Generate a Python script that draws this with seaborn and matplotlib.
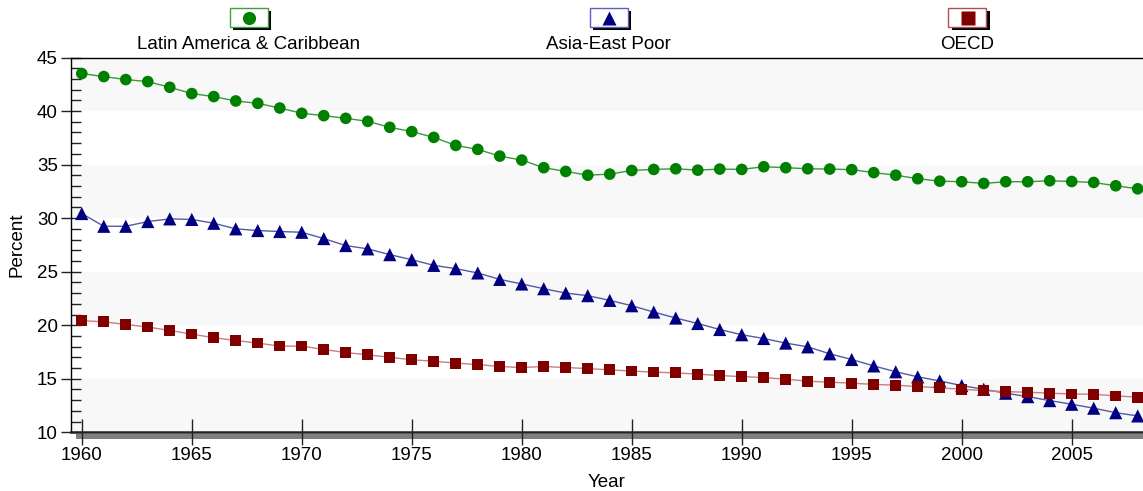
import numpy as np
import pandas as pd
import seaborn as sns
import matplotlib.pyplot as plt
from matplotlib.patches import Rectangle
from matplotlib.lines import Line2D
from matplotlib.ticker import MultipleLocator

years = list(range(1960, 2009))

latin = [43.50, 43.22, 42.94, 42.75, 42.22, 41.63, 41.35, 40.94, 40.72, 40.28,
         39.79, 39.57, 39.32, 39.04, 38.48, 38.08, 37.54, 36.79, 36.42, 35.79,
         35.42, 34.71, 34.36, 34.01, 34.11, 34.45, 34.55, 34.61, 34.48, 34.58,
         34.55, 34.80, 34.71, 34.61, 34.58, 34.53, 34.25, 34.01, 33.68, 33.45,
         33.40, 33.24, 33.40, 33.40, 33.49, 33.42, 33.33, 33.02, 32.74]
asia = [30.43, 29.24, 29.24, 29.68, 29.93, 29.88, 29.52, 29.00, 28.84, 28.75,
        28.68, 28.09, 27.44, 27.13, 26.59, 26.12, 25.59, 25.28, 24.88, 24.28,
        23.85, 23.41, 23.00, 22.76, 22.32, 21.82, 21.23, 20.67, 20.16, 19.60,
        19.11, 18.76, 18.33, 17.98, 17.33, 16.80, 16.20, 15.65, 15.18, 14.80,
        14.36, 14.02, 13.65, 13.33, 12.96, 12.62, 12.25, 11.83, 11.53]
oecd = [20.42, 20.32, 20.07, 19.83, 19.51, 19.17, 18.83, 18.57, 18.33, 18.05,
        18.05, 17.73, 17.45, 17.23, 17.01, 16.77, 16.64, 16.46, 16.33, 16.14,
        16.05, 16.14, 16.05, 15.95, 15.83, 15.72, 15.62, 15.55, 15.43, 15.30,
        15.20, 15.11, 14.96, 14.77, 14.68, 14.59, 14.47, 14.40, 14.27, 14.15,
        14.02, 13.89, 13.80, 13.74, 13.65, 13.58, 13.55, 13.40, 13.28]

series = ["Latin America & Caribbean", "Asia-East Poor", "OECD"]
dark = dict(zip(series, ["#008000", "#000080", "#800000"]))
light = dict(zip(series, ["#3a9a3a", "#5858a8", "#c88080"]))
edge = dict(zip(series, ["#40a040", "#6060b8", "#b05050"]))
marks = dict(zip(series, ["o", "^", "s"]))
msize = dict(zip(series, [70, 90, 60]))

df = pd.DataFrame({
    "Year": years * 3,
    "Percent": latin + asia + oecd,
    "Series": np.repeat(series, len(years)),
})

sns.set_style("ticks")
plt.rcParams["font.family"] = ["Liberation Sans", "DejaVu Sans"]
plt.rcParams["text.color"] = "black"
plt.rcParams["axes.labelcolor"] = "black"
plt.rcParams["xtick.labelcolor"] = "black"
plt.rcParams["ytick.labelcolor"] = "black"

W, H = 1143, 491
fig = plt.figure(figsize=(W / 100, H / 100), dpi=100)
ax = fig.add_axes([71 / W, 1 - 432.3 / H, 1 - 71 / W, (432.3 - 57.5) / H])

# alternating light bands
for lo in (10, 20, 30, 40):
    ax.axhspan(lo, lo + 5, color="#f8f8f8", lw=0, zorder=0)

sns.lineplot(data=df, x="Year", y="Percent", hue="Series", palette=light,
             lw=1, legend=False, ax=ax, zorder=2)
sns.scatterplot(data=df, x="Year", y="Percent", hue="Series", style="Series",
                size="Series", sizes=msize, markers=marks, palette=dark,
                edgecolor="none", legend=False, ax=ax, zorder=3)

ax.set_xlim(1959.51, 2008.24)
ax.set_ylim(10, 45)
ax.xaxis.set_major_locator(MultipleLocator(5))
ax.yaxis.set_major_locator(MultipleLocator(5))
ax.yaxis.set_minor_locator(MultipleLocator(1))
ax.tick_params(axis="x", which="major", direction="inout", length=19, width=1,
               color="#222222", labelsize=13.5, pad=1)
ax.tick_params(axis="y", which="major", direction="inout", length=15, width=1,
               color="#222222", labelsize=13.5, pad=2)
ax.tick_params(axis="y", which="minor", direction="in", length=7, width=1,
               color="#222222")

ax.spines["right"].set_visible(False)
ax.spines["top"].set_color("black")
ax.spines["top"].set_linewidth(1)
ax.spines["left"].set_color("black")
ax.spines["left"].set_linewidth(1)
ax.spines["bottom"].set_color("#222222")
ax.spines["bottom"].set_linewidth(1.8)

# grey shadow under the x axis
fig.patches.append(Rectangle((76 / W, 1 - 438.5 / H), 1, 5 / H,
                             transform=fig.transFigure, color="#808080",
                             lw=0, zorder=-1))

ax.set_xlabel("Year", fontsize=13.5)
ax.xaxis.set_label_coords(0.5, -0.11)
ax.set_ylabel("Percent", fontsize=13.5)
ax.yaxis.set_label_coords(-0.042, 0.5)

# legend: boxed marker with label underneath
centers = [249, 608.5, 967.5]
bw, bh = 38, 19
for cx, name in zip(centers, series):
    x0, y0 = cx - bw / 2, 8
    fig.patches.append(Rectangle(((x0 + 3) / W, 1 - (y0 + bh + 3) / H), bw / W, bh / H,
                                 transform=fig.transFigure, facecolor="black",
                                 lw=0))
    fig.patches.append(Rectangle((x0 / W, 1 - (y0 + bh) / H), bw / W, bh / H,
                                 transform=fig.transFigure, facecolor="white",
                                 edgecolor=edge[name], lw=1))
    ms = {"o": 9.5, "^": 10.5, "s": 9.5}[marks[name]]
    fig.lines.append(Line2D([cx / W], [1 - (y0 + bh / 2) / H], marker=marks[name],
                            markersize=ms, color=dark[name], mec="none",
                            transform=fig.transFigure))
    fig.text(cx / W, 1 - 49 / H, name, ha="center", va="baseline", fontsize=13.5)

fig.savefig("out.png", dpi=100)
